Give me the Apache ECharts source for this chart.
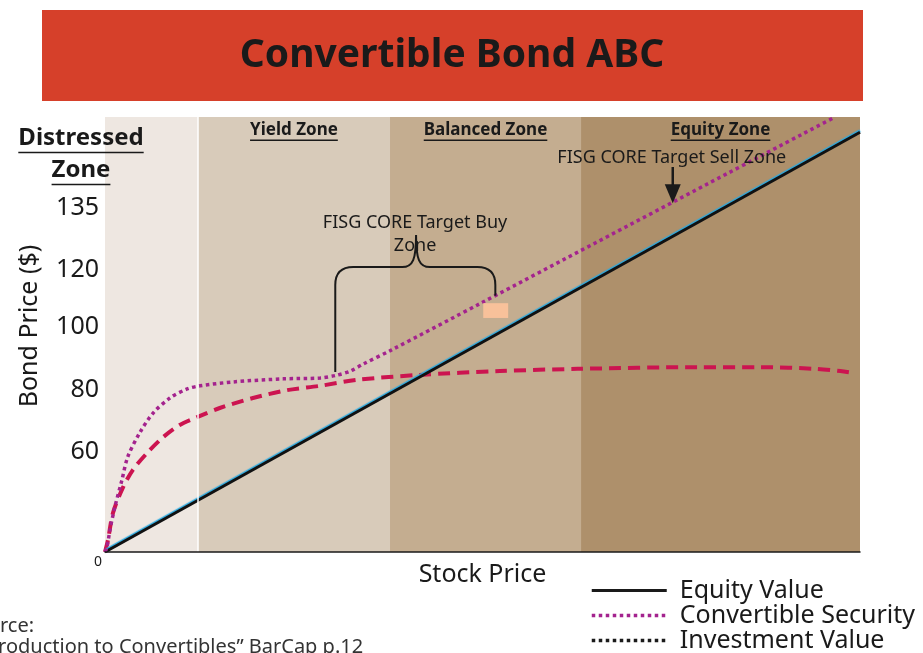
<!DOCTYPE html>
<html>
<head>
<meta charset="utf-8">
<script src="https://cdn.jsdelivr.net/npm/echarts@6/dist/echarts.min.js"></script>
<style>
    html, body { margin: 0; padding: 0; background: #fff; }
    #chart { width: 923px; height: 653px; }
</style>
</head>
<body>
<div id="chart"></div>
<script>
// schematic chart: both axes run 0..100 in plot units
var zoneNames = ['Distressed Zone', 'Yield Zone', 'Balanced Zone', 'Equity Zone'];
var zoneEdges = [0, 12.3, 37.75, 63.05, 100];
var zoneColors = ['#EEE7E1', '#D8CBBA', '#C4AD90', '#AE906B'];

var yTickPos = [23, 37.2, 51.7, 64.8, 79.1];
var yTickLabels = ['60', '80', '100', '120', '135'];

var equityValue = [[0, 0], [100, 96.5]];
var convertibleSecurity = [[0, 0], [0.26, 1.1], [0.66, 5.1], [1.3, 10.3], [2.25, 16.6], [3.0, 21.8], [4.6, 27.4],
    [6.4, 32.0], [8.6, 35.4], [10.9, 37.5], [12.6, 38.2], [17.0, 39.1], [23.6, 39.8], [28.5, 40.0], [30.6, 40.6],
    [32.5, 41.6], [34.2, 43.2], [37.9, 46.4], [50, 57.4], [65, 71.1], [80, 84.8], [96.7, 100]];
var investmentValue = [[0, 0], [0.4, 2.8], [1.06, 9.0], [2.4, 14.9], [3.7, 18.9], [5.6, 22.8], [7.7, 26.4],
    [9.9, 29.2], [12.2, 31.0], [15.2, 33.1], [19.6, 35.4], [24.1, 37.2], [28.5, 38.2], [33.5, 39.6], [41.6, 40.7],
    [52.3, 41.6], [62.6, 42.1], [78.4, 42.5], [86.8, 42.5], [94.2, 42.1], [97.4, 41.6], [99.3, 41.1]];

// annotation anchors (plot units)
var buyBrace = {left: 30.5, right: 51.7, mid: 41.2, top: 65.5, tip: 72.9, leftEnd: 41.4, rightEnd: 58.9};
var buyBox = [[50.1, 57.2], [53.4, 53.8]];
var sellArrow = [[75.2, 88.5], [75.2, 80.2]];

var FONT = '"Noto Sans", "Open Sans", sans-serif';
var INK = '#1a1a1a';

// curly brace shape for the buy zone
echarts.graphic.registerShape('brace', echarts.graphic.extendShape({
    shape: {xl: 0, xr: 0, xm: 0, yt: 0, ytip: 0, yl: 0, yr: 0, r: 18},
    buildPath: function (ctx, s) {
        ctx.moveTo(s.xl, s.yl);
        ctx.lineTo(s.xl, s.yt + s.r);
        ctx.quadraticCurveTo(s.xl, s.yt, s.xl + s.r, s.yt);
        ctx.lineTo(s.xm - 14, s.yt);
        ctx.bezierCurveTo(s.xm - 3, s.yt, s.xm, s.yt - 8, s.xm, s.ytip);
        ctx.bezierCurveTo(s.xm, s.yt - 8, s.xm + 3, s.yt, s.xm + 14, s.yt);
        ctx.lineTo(s.xr - s.r, s.yt);
        ctx.quadraticCurveTo(s.xr, s.yt, s.xr, s.yt + s.r);
        ctx.lineTo(s.xr, s.yr);
    }
}));

var chart = echarts.init(document.getElementById('chart'));

var areas = [];
for (var i = 0; i < zoneNames.length; i++) {
    areas.push([{xAxis: zoneEdges[i], itemStyle: {color: zoneColors[i]}}, {xAxis: zoneEdges[i + 1]}]);
}

var option = {
    backgroundColor: '#fff',
    animation: false,
    grid: {left: 105, right: 63, top: 117, bottom: 101},
    legend: {
        orient: 'vertical',
        left: 590,
        top: 578,
        padding: 0,
        itemWidth: 75,
        itemHeight: 14,
        itemGap: 0,
        selectedMode: false,
        textStyle: {fontFamily: FONT, fontSize: 25, color: INK, lineHeight: 25, padding: [0, 0, 0, 8]},
        data: [
            {name: 'Equity Value', itemStyle: {opacity: 0}, lineStyle: {color: INK, width: 3, type: 'solid'}},
            {name: 'Convertible Security', itemStyle: {opacity: 0}, lineStyle: {color: '#A4238E', width: 3.5, type: 'dotted'}},
            {name: 'Investment Value', itemStyle: {opacity: 0}, lineStyle: {color: INK, width: 3.5, type: 'dotted'}}
        ]
    },
    xAxis: {
        type: 'value',
        min: 0,
        max: 100,
        z: 10,
        name: 'Stock Price',
        nameLocation: 'middle',
        nameGap: 10,
        nameMoveOverlap: false,
        nameTextStyle: {fontFamily: FONT, fontSize: 25, color: INK, verticalAlign: 'top'},
        axisLine: {show: true, lineStyle: {color: INK, width: 1.5}},
        axisTick: {show: false},
        splitLine: {show: false},
        axisLabel: {
            customValues: [0],
            formatter: '0',
            margin: 3,
            align: 'right',
            padding: [0, 3, 0, 0],
            fontFamily: FONT,
            fontSize: 14,
            color: INK
        }
    },
    yAxis: {
        type: 'value',
        min: 0,
        max: 100,
        axisLine: {show: false},
        axisTick: {show: false},
        splitLine: {show: false},
        axisLabel: {
            customValues: yTickPos,
            formatter: function (v) {
                var k = yTickPos.indexOf(v);
                return k >= 0 ? yTickLabels[k] : '';
            },
            margin: 6,
            fontFamily: FONT,
            fontSize: 25,
            color: INK
        }
    },
    series: [
        {
            name: 'zones',
            type: 'line',
            data: [],
            z: 1,
            silent: true,
            markArea: {silent: true, data: areas},
            markLine: {
                silent: true,
                symbol: 'none',
                label: {show: false},
                lineStyle: {color: '#fff', width: 1.5, type: 'solid'},
                data: [{xAxis: zoneEdges[1]}]
            }
        },
        {
            name: 'Investment Value',
            type: 'line',
            z: 3,
            data: investmentValue,
            symbol: 'none',
            smooth: 0.3,
            lineStyle: {color: '#CC1450', width: 4, type: [12, 7]}
        },
        {
            name: 'Equity Value',
            type: 'line',
            z: 4,
            data: equityValue,
            symbol: 'none',
            lineStyle: {
                color: '#111', width: 3,
                shadowColor: '#2AA9E0', shadowBlur: 1, shadowOffsetY: -1.5
            }
        },
        {
            name: 'Convertible Security',
            type: 'line',
            z: 5,
            data: convertibleSecurity,
            symbol: 'none',
            smooth: 0.3,
            lineStyle: {color: '#A4238E', width: 3.5, type: 'dotted'}
        }
    ]
};
chart.setOption(option);

// annotations
var measure = document.createElement('canvas').getContext('2d');
function textW(str, font) {
    measure.font = font;
    return measure.measureText(str).width;
}
function px(p) {
    return chart.convertToPixel({gridIndex: 0}, p);
}
function underlinedText(str, cx, cy, size) {
    var w = textW(str, 'bold ' + size + 'px ' + FONT);
    var uy = cy + size * 0.6;
    return [
        {type: 'text', z: 20, style: {text: str, x: cx, y: cy, align: 'center', verticalAlign: 'middle',
            font: 'bold ' + size + 'px ' + FONT, fill: INK}},
        {type: 'line', z: 20, shape: {x1: cx - w / 2, y1: uy, x2: cx + w / 2, y2: uy},
            style: {stroke: INK, lineWidth: 1.5}}
    ];
}

var g = [];
// title band
g.push({type: 'rect', z: 20, shape: {x: 42, y: 10, width: 821, height: 91}, style: {fill: '#D6402A'}});
g.push({type: 'text', z: 21, style: {text: 'Convertible Bond ABC', x: 452, y: 56, align: 'center',
    verticalAlign: 'middle', font: 'bold 39px ' + FONT, fill: INK}});

// zone labels
g = g.concat(underlinedText('Distressed', 81, 138, 24));
g = g.concat(underlinedText('Zone', 81, 170, 24));
for (var j = 1; j < zoneNames.length; j++) {
    var c = px([(zoneEdges[j] + zoneEdges[j + 1]) / 2, 0]);
    g = g.concat(underlinedText(zoneNames[j], c[0], 130, 17));
}

// y axis name
g.push({type: 'text', z: 20, x: 30, y: 326, rotation: Math.PI / 2,
    style: {text: 'Bond Price ($)', x: 0, y: 0, align: 'center', verticalAlign: 'middle',
        font: '25px ' + FONT, fill: INK}});

// buy zone brace
var bl = px([buyBrace.left, buyBrace.leftEnd]);
var br = px([buyBrace.right, buyBrace.rightEnd]);
var bt = px([buyBrace.mid, buyBrace.top]);
var btip = px([buyBrace.mid, buyBrace.tip]);
g.push({type: 'brace', z: 20,
    shape: {xl: bl[0], xr: br[0], xm: bt[0], yt: bt[1], ytip: btip[1], yl: bl[1], yr: br[1], r: 18},
    style: {stroke: INK, lineWidth: 2, fill: null}});
g.push({type: 'text', z: 21, style: {text: 'FISG CORE Target Buy\nZone', x: bt[0] - 1, y: btip[1] - 1,
    align: 'center', verticalAlign: 'middle', font: '18px ' + FONT, lineHeight: 23, fill: INK}});

// buy box
var b0 = px(buyBox[0]), b1 = px(buyBox[1]);
g.push({type: 'rect', z: 20, shape: {x: b0[0], y: b0[1], width: b1[0] - b0[0], height: b1[1] - b0[1]},
    style: {fill: '#F8C19A'}});

// sell arrow
var a0 = px(sellArrow[0]), a1 = px(sellArrow[1]);
g.push({type: 'line', z: 20, shape: {x1: a0[0], y1: a0[1], x2: a0[0], y2: a1[1] - 16},
    style: {stroke: INK, lineWidth: 2.5}});
g.push({type: 'polygon', z: 20, shape: {points: [[a1[0] - 8, a1[1] - 19], [a1[0] + 8, a1[1] - 19], [a1[0], a1[1]]]},
    style: {fill: INK}});
g.push({type: 'text', z: 21, style: {text: 'FISG CORE Target Sell Zone', x: a0[0] - 1, y: a0[1] - 9,
    align: 'center', verticalAlign: 'middle', font: '18px ' + FONT, fill: INK}});

// source note, clipped by the left edge as in the original
var srcFont = '20px ' + FONT;
g.push({type: 'text', z: 20, style: {text: 'Source:\n\u201CIntroduction to Convertibles\u201D BarCap p.12',
    x: -textW('Sou', srcFont), y: 616, align: 'left', verticalAlign: 'top', font: srcFont, lineHeight: 21, fill: '#333'}});

chart.setOption({graphic: g});
</script>
</body>
</html>
